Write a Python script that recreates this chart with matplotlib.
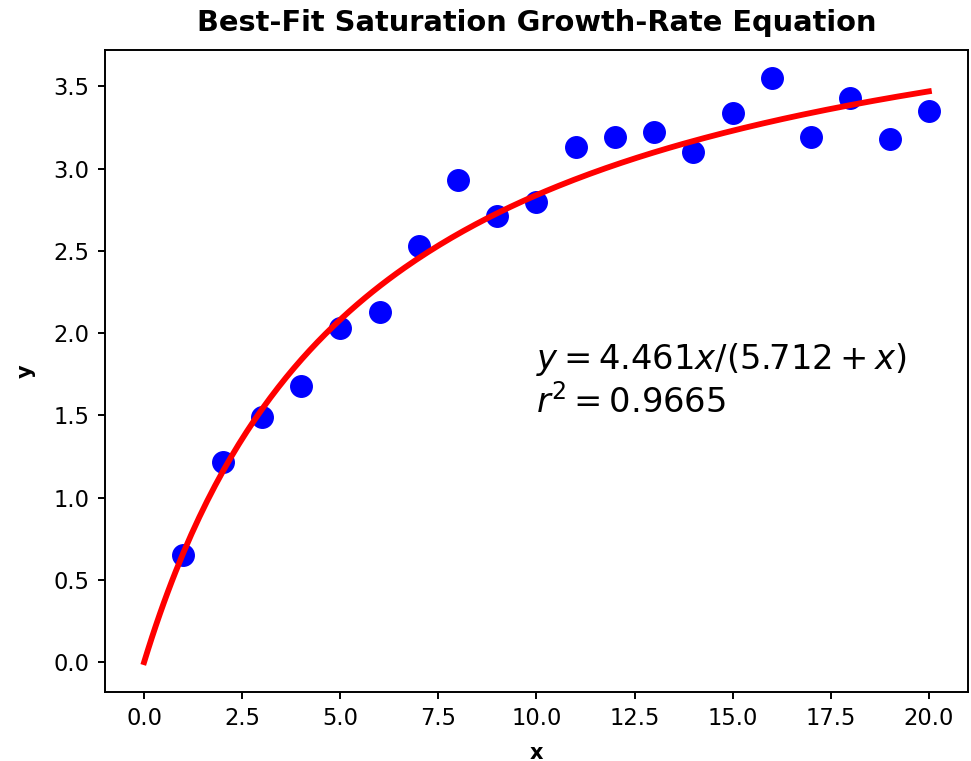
import numpy as np
from matplotlib import pyplot as plt

# measured data
x_data = [1, 2, 3, 4, 5, 6, 7, 8, 9, 10, 11, 12, 13, 14, 15, 16, 17, 18, 19, 20]
y_data = [0.65, 1.215, 1.49, 1.68, 2.03, 2.13, 2.53, 2.93, 2.71, 2.80,
          3.13, 3.19, 3.22, 3.10, 3.34, 3.55, 3.19, 3.43, 3.18, 3.35]

# saturation growth-rate fit: y = a*x / (b + x)
a_fit = 4.461
b_fit = 5.712
r_squared = 0.9665

fig = plt.figure(figsize=(9.71, 7.61), dpi=100)
ax = fig.add_axes([0.108, 0.091, 0.889, 0.843])

x_curve = np.linspace(0, 20, 200)
y_curve = a_fit * x_curve / (b_fit + x_curve)

ax.plot(x_data, y_data, 'o', color='blue', markersize=15.5, zorder=2)
ax.plot(x_curve, y_curve, color='red', linewidth=4.2, zorder=3)

ax.text(10, 1.52, '$y = %.3fx/(%.3f + x)$\n$r^2 = %.4f$' % (a_fit, b_fit, r_squared),
        fontsize=24.3)

ax.set_title('Best-Fit Saturation Growth-Rate Equation', fontsize=20.8, fontweight='bold', pad=14)
ax.set_xlabel('x', fontsize=15, fontweight='bold', labelpad=9)
ax.set_ylabel('y', fontsize=15, fontweight='bold', labelpad=13)

ax.set_xlim(-1.0, 21.0)
ax.set_ylim(-0.18, 3.72)
ax.set_xticks(np.arange(0, 20.1, 2.5))
ax.set_yticks(np.arange(0, 3.6, 0.5))
ax.tick_params(labelsize=16.3, width=1.4, length=5, pad=6)
for spine in ax.spines.values():
    spine.set_linewidth(1.4)

fig.savefig('out.png', dpi=100)
